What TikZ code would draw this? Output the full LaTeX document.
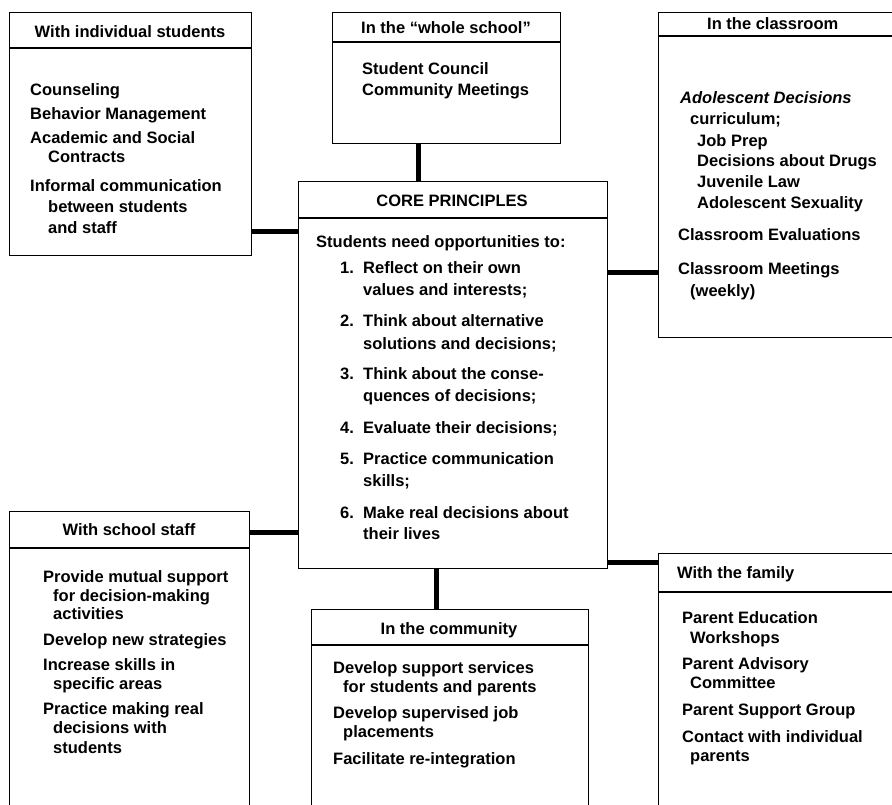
\documentclass[tikz,border=0pt]{standalone}
\usepackage{fontspec}
\setmainfont{Liberation Sans}
\newcommand\diagfont{\fontsize{16.5}{20}\selectfont\bfseries}
\tikzset{
  box/.style={draw, line width=1.2pt, inner sep=0pt, anchor=north west},
  divline/.style={line width=1.1pt},
  conn/.style={line width=5pt},
  tx/.style={anchor=base west, inner sep=0pt, font=\diagfont},
  hd/.style={anchor=base, inner sep=0pt, font=\diagfont},
  hdl/.style={anchor=base west, inner sep=0pt, font=\diagfont},
}
\begin{document}
\begin{tikzpicture}[x=1pt,y=-1pt]
\useasboundingbox (0,0) rectangle (892,804);
\clip (0,0) rectangle (892,804);
\fill[white] (0,0) rectangle (892,804);

% ---------- With individual students ----------
\node[box, minimum width=242pt, minimum height=243pt] (ind) at (9,12) {};
\draw[divline] (ind.west |- 0,48) -- (ind.east |- 0,48);
\node[hd] (indh) at (130,37) {With individual students};
\node[tx] (ind1) at (30,95) {Counseling};
\node[tx] (ind2) at (30,119) {Behavior Management};
\node[tx] (ind3) at (30,143) {Academic and Social};
\node[tx] (ind3b) at (48,162) {Contracts};
\node[tx] (ind4) at (30,191) {Informal communication};
\node[tx] (ind4b) at (48,212) {between students};
\node[tx] (ind4c) at (48,233) {and staff};

% ---------- In the whole school ----------
\node[box, minimum width=228pt, minimum height=131pt] (whole) at (332,12) {};
\draw[divline] (whole.west |- 0,42) -- (whole.east |- 0,42);
\node[hd] (wholeh) at (446,33) {In the “whole school”};
\node[tx] (whole1) at (362,74) {Student Council};
\node[tx] (whole2) at (362,95) {Community Meetings};

% ---------- In the classroom ----------
\node[box, minimum width=300pt, minimum height=325pt] (cls) at (658,12) {};
\draw[divline] (cls.west |- 0,36) -- (cls.east |- 0,36);
\node[hdl] (clsh) at (707,29) {In the classroom};
\node[tx] (cls1) at (680,103) {\itshape Adolescent Decisions};
\node[tx] (cls1b) at (690,124) {curriculum;};
\node[tx] (cls1c) at (697,146) {Job Prep};
\node[tx] (cls1d) at (697,166) {Decisions about Drugs};
\node[tx] (cls1e) at (697,187) {Juvenile Law};
\node[tx] (cls1f) at (697,208) {Adolescent Sexuality};
\node[tx] (cls2) at (678,240) {Classroom Evaluations};
\node[tx] (cls3) at (678,274) {Classroom Meetings};
\node[tx] (cls3b) at (690,296) {(weekly)};

% ---------- CORE PRINCIPLES ----------
\node[box, minimum width=309pt, minimum height=387pt] (core) at (298,181) {};
\draw[divline] (core.west |- 0,218) -- (core.east |- 0,218);
\node[hd] (coreh) at (452,206) {CORE PRINCIPLES};
\node[tx] (core0) at (316,247) {Students need opportunities to:};
\node[tx] (n1) at (340,273) {1.};
\node[tx] (c1) at (363,273) {Reflect on their own};
\node[tx] (c1b) at (363,295) {values and interests;};
\node[tx] (n2) at (340,326) {2.};
\node[tx] (c2) at (363,326) {Think about alternative};
\node[tx] (c2b) at (363,349) {solutions and decisions;};
\node[tx] (n3) at (340,379) {3.};
\node[tx] (c3) at (363,379) {Think about the conse-};
\node[tx] (c3b) at (363,401) {quences of decisions;};
\node[tx] (n4) at (340,433) {4.};
\node[tx] (c4) at (363,433) {Evaluate their decisions;};
\node[tx] (n5) at (340,464) {5.};
\node[tx] (c5) at (363,464) {Practice communication};
\node[tx] (c5b) at (363,486) {skills;};
\node[tx] (n6) at (340,518) {6.};
\node[tx] (c6) at (363,518) {Make real decisions about};
\node[tx] (c6b) at (363,539) {their lives};

% ---------- With school staff ----------
\node[box, minimum width=240pt, minimum height=340pt] (staff) at (9,511) {};
\draw[divline] (staff.west |- 0,548) -- (staff.east |- 0,548);
\node[hd] (staffh) at (129,535) {With school staff};
\node[tx] (st1) at (43,582) {Provide mutual support};
\node[tx] (st1b) at (53,601) {for decision-making};
\node[tx] (st1c) at (53,619) {activities};
\node[tx] (st2) at (43,645) {Develop new strategies};
\node[tx] (st3) at (43,670) {Increase skills in};
\node[tx] (st3b) at (53,689) {specific areas};
\node[tx] (st4) at (43,714) {Practice making real};
\node[tx] (st4b) at (53,733) {decisions with};
\node[tx] (st4c) at (53,753) {students};

% ---------- In the community ----------
\node[box, minimum width=277pt, minimum height=240pt] (com) at (311,609) {};
\draw[divline] (com.west |- 0,645) -- (com.east |- 0,645);
\node[hd] (comh) at (449,634) {In the community};
\node[tx] (cm1) at (333,673) {Develop support services};
\node[tx] (cm1b) at (343,692) {for students and parents};
\node[tx] (cm2) at (333,718) {Develop supervised job};
\node[tx] (cm2b) at (343,737) {placements};
\node[tx] (cm3) at (333,764) {Facilitate re-integration};

% ---------- With the family ----------
\node[box, minimum width=300pt, minimum height=300pt] (fam) at (658,553) {};
\draw[divline] (fam.west |- 0,592) -- (fam.east |- 0,592);
\node[hdl] (famh) at (677,578) {With the family};
\node[tx] (f1) at (682,623) {Parent Education};
\node[tx] (f1b) at (690,643) {Workshops};
\node[tx] (f2) at (682,669) {Parent Advisory};
\node[tx] (f2b) at (690,688) {Committee};
\node[tx] (f3) at (682,715) {Parent Support Group};
\node[tx] (f4) at (682,742) {Contact with individual};
\node[tx] (f4b) at (690,761) {parents};

% ---------- connectors ----------
\draw[conn] (ind.east |- 0,231) -- (core.west |- 0,231);
\draw[conn] (whole.south -| 418,0) -- (core.north -| 418,0);
\draw[conn] (core.east |- 0,272) -- (cls.west |- 0,272);
\draw[conn] (staff.east |- 0,532) -- (core.west |- 0,532);
\draw[conn] (core.south -| 436,0) -- (com.north -| 436,0);
\draw[conn] (core.east |- 0,562) -- (fam.west |- 0,562);
\end{tikzpicture}
\end{document}
